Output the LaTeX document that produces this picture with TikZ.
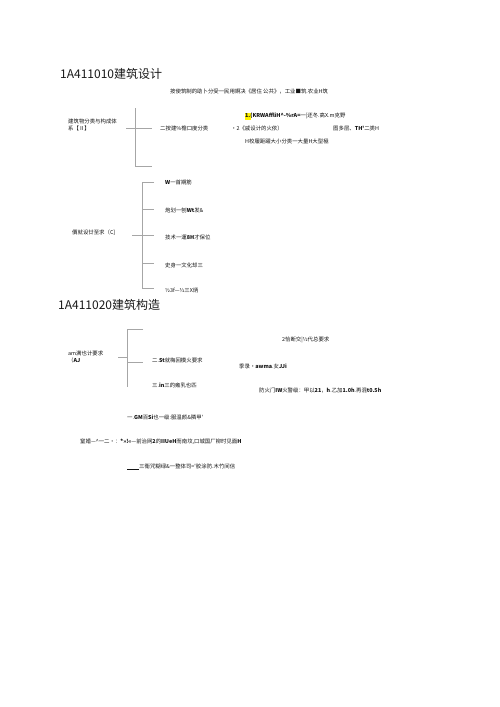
\documentclass[tikz,border=0pt]{standalone}
\usepackage{fontspec}
\setmainfont{Noto Sans CJK SC}
\newfontfamily\cjk{Noto Sans CJK SC}
\begin{document}
\begin{tikzpicture}[x=1pt,y=-1pt,
  title/.style={anchor=west,inner sep=0pt,font=\cjk\fontsize{12}{14}\selectfont,text=black!90},
  txt/.style={anchor=west,inner sep=0pt,font=\cjk\fontsize{5.4}{6.7}\selectfont,text=black!92},
  brk/.style={draw=black!35,line width=0.9pt}]
\useasboundingbox (0,0) rectangle (500,707);
\fill[white] (0,0) rectangle (500,707);
% titles
\node[title] (t1) at (60,74) {1A411010建筑设计};
\node[title] (t2) at (58,305) {1A411020建筑构造};
% top line
\node[txt] (l0) at (170,92) {按使筑制的助卜分受一民用婀决《居住 公共》，工业■筑.农业H筑};
% group 1
\node[txt,align=left] (g1) at (68,125) {建筑物分类与构成体\\系【Ⅱ】};
\node[txt] (g1a) at (160,128) {二按建\%檐口度分类};
\fill[yellow] (244.5,112.5) rectangle (251,119.5);
\node[txt] (r1) at (245,116) {\textbf{1.(KRWAffliH\^{}-\%rA=}一|还冬.高X.m克野};
\node[txt] (r2) at (231,128) {·2《戚设计的火依）};
\node[txt] (r3) at (333,128) {图多层、\textbf{TH'}二类H};
\node[txt] (r4) at (245,141) {H校履距躍大小分类一大量H大型極};
\coordinate (b1t) at (135,108);
\coordinate (b1b) at (135,166);
\coordinate (b1h) at (152,166);
\coordinate (b1l) at (126,128);
\coordinate (b1r) at (152,128);
\draw[brk] (b1t) -- (b1b) -- (b1h);
\draw[brk] (b1l) -- (b1r);
% group 2
\node[txt] (g2) at (72,233) {價就设廿至求（C]};
\node[txt] (c1) at (165,182) {\textbf{W}一首期筋};
\node[txt] (c2) at (165,210) {炮划一刨\textbf{Wt}发\&};
\node[txt] (c3) at (165,237) {技术一運\textbf{8H}才保位};
\node[txt] (c4) at (165,265) {史身一文化却三};
\node[txt] (c5) at (165,290) {½3f—½三X炳};
\coordinate (b2t) at (142,182);
\coordinate (b2b) at (142,288);
\coordinate (h1) at (154,182);
\coordinate (h2) at (154,209);
\coordinate (h3) at (154,235);
\coordinate (h4) at (154,263);
\coordinate (h5) at (154,288);
\coordinate (b2l) at (132,235);
\draw[brk] (h1) -- (b2t) -- (b2b) -- (h5);
\draw[brk] (b2l) -- (h3);
\draw[brk] (142,209) -- (h2);
\draw[brk] (142,263) -- (h4);
% group 3
\node[txt,align=left] (g3) at (68,357) {am满也计要求\\（\textbf{AJ}};
\node[txt] (d2) at (152,360) {二.\textbf{St}就梅回模火要求};
\node[txt] (d3) at (152,385) {三.\textbf{in}三的雍乳也匹};
\node[txt] (e1) at (282,340) {2恰断交|½代总要求};
\node[txt] (e2) at (239,366) {季录・\textbf{awma}.女\textbf{JJi}};
\node[txt] (e3) at (259,391) {防火门\textbf{IW}火警级：甲以\textbf{21}，\textbf{h}.乙加\textbf{1.0h}.再混\textbf{t0.5h}};
\coordinate (b3t) at (127,329);
\coordinate (b3b) at (127,387);
\coordinate (b3h) at (143,329);
\coordinate (b3m) at (143,362);
\coordinate (b3l) at (118,357);
\draw[brk] (b3h) -- (b3t) -- (b3b);
\draw[brk] (127,362) -- (b3m);
\draw[brk] (b3l) -- (127,357);
% bottom lines
\node[txt] (f1) at (127,417) {一.\textbf{GM}百\textbf{Si}也一级:服温颜\&隣甲'};
\node[txt] (f2) at (80,442) {窒婚—\^{}一二•：\textbf{*»!«}—前治网\textbf{2}的\textbf{IIUeH}而南坟,口城国厂柳时见面\textbf{H}};
\node[txt] (f3) at (127,467) {\underline{\hspace{12pt}}三衞咒糊绿\&一整体司='胶涂防.木竹间信};
\end{tikzpicture}
\end{document}
